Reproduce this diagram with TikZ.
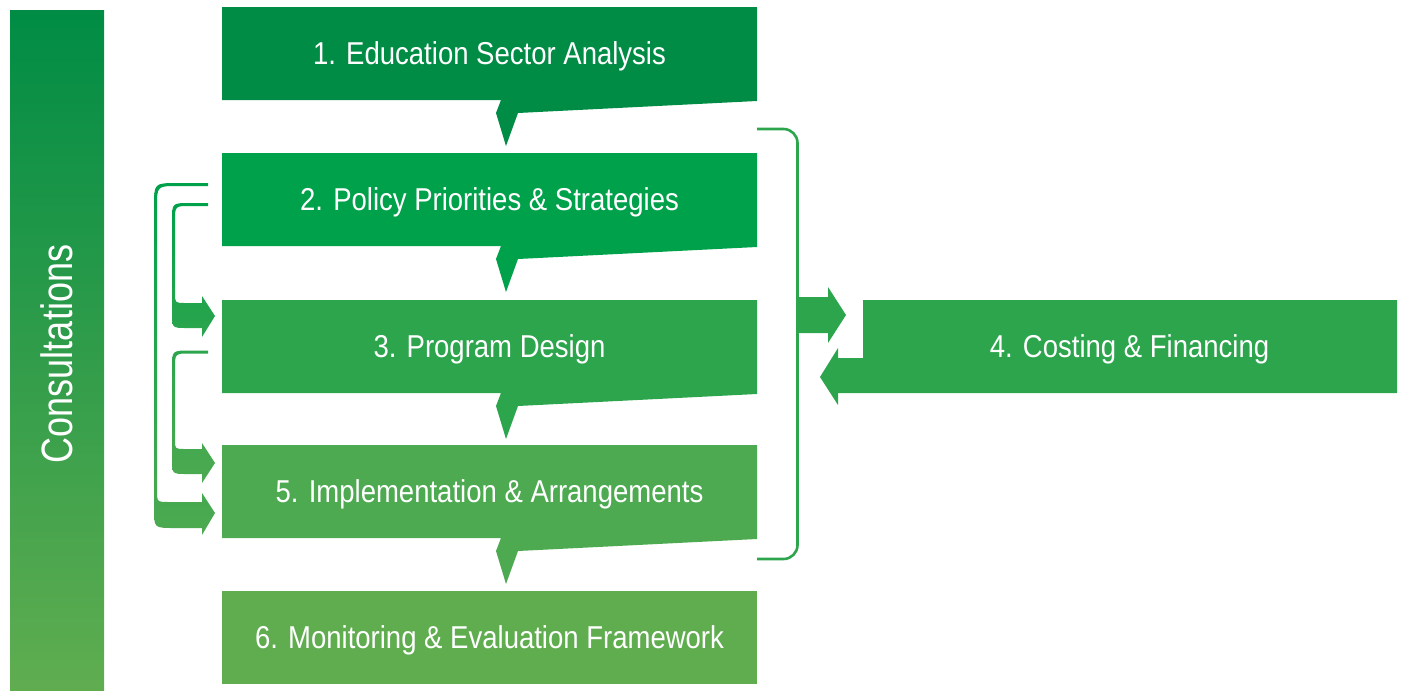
\documentclass[tikz,border=0pt]{standalone}
\usepackage{fontspec}
\setmainfont{Liberation Sans}
\newfontfamily\boxfont[FakeStretch=0.87]{Liberation Sans}
\newfontfamily\consfont[FakeStretch=0.82]{Liberation Sans}
\definecolor{gA}{RGB}{0,140,69}
\definecolor{gB}{RGB}{0,161,75}
\definecolor{gC}{RGB}{44,165,77}
\definecolor{gE}{RGB}{77,170,80}
\definecolor{gF}{RGB}{96,173,80}
\tikzset{
  boxtext/.style={text=white,font=\boxfont\fontsize{18}{20}\selectfont,inner sep=0pt},
  brk/.style={draw=gC,line width=2.6*0.02cm,rounded corners=14*0.02cm}
}
\begin{document}
\begin{tikzpicture}[x=0.02cm,y=-0.02cm]
\useasboundingbox (0,0) rectangle (1403,690);
% consultations bar
\shade[top color=gA,middle color=gB!90!gC,bottom color=gF] (10,10) rectangle (104,690);
\node[text=white,font=\consfont\fontsize{25}{27}\selectfont,rotate=90,inner sep=0pt] (cons) at (57,354) {Consultations};
% callout boxes
\fill[gA] (222,7) -- (757,7) -- (757,101) -- (518,113) -- (506,146) -- (496,113) -- (501,100) -- (222,100) -- cycle;
\fill[gB] (222,153) -- (757,153) -- (757,247) -- (518,259) -- (506,292) -- (496,259) -- (501,246) -- (222,246) -- cycle;
\fill[gC] (222,300) -- (757,300) -- (757,394) -- (518,406) -- (506,439) -- (496,406) -- (501,393) -- (222,393) -- cycle;
\fill[gE] (222,445) -- (757,445) -- (757,539) -- (518,551) -- (506,584) -- (496,551) -- (501,538) -- (222,538) -- cycle;
\fill[gF] (222,591) rectangle (757,684);
\node[boxtext] (b1) at (489.5,56) {1. Education Sector Analysis};
\node[boxtext] (b2) at (489.5,202) {2. Policy Priorities \& Strategies};
\node[boxtext] (b3) at (489.5,349) {3. Program Design};
\node[boxtext] (b5) at (489.5,494) {5. Implementation \& Arrangements};
\node[boxtext] (b6) at (489.5,640) {6. Monitoring \& Evaluation Framework};
% box 4 with return arrow
\fill[gC] (863,300) -- (1397,300) -- (1397,393) -- (838,393) -- (838,405) -- (820,377) -- (838,348) -- (838,358) -- (863,358) -- cycle;
\node[boxtext] (b4) at (1129.5,349) {4. Costing \& Financing};
% bracket and arrow to box 4
\draw[brk] (757,129) -- (797.5,129) -- (797.5,559) -- (757,559);
\fill[gC] (797,297) -- (828,297) -- (828,287) -- (846,315) -- (828,343) -- (828,333) -- (797,333) -- cycle;
% left feedback arrows (2 -> 5)
\shade[top color=gB,bottom color=gE]
  (208,183) -- (178,183) .. controls (154,183) .. (154,207) -- (154,508)
  .. controls (154,528) .. (174,528) -- (202,528) -- (202,535) -- (215,513)
  -- (202,493) -- (202,502) -- (169,502) .. controls (157,502) .. (157,490)
  -- (157,207) .. controls (157,186) .. (178,186) -- (208,186) -- cycle;
% 2 -> 3
\shade[top color=gB,bottom color=gC]
  (208,203) -- (190,203) .. controls (172,203) .. (172,221) -- (172,313)
  .. controls (172,328) .. (187,328) -- (202,328) -- (202,337) -- (215,316)
  -- (202,296) -- (202,303) -- (185,303) .. controls (175,303) .. (175,293)
  -- (175,221) .. controls (175,206) .. (190,206) -- (208,206) -- cycle;
% 3 -> 5
\shade[top color=gC,bottom color=gE]
  (208,350.5) -- (190,350.5) .. controls (172,350.5) .. (172,368) -- (172,459)
  .. controls (172,474) .. (187,474) -- (202,474) -- (202,483) -- (215,463)
  -- (202,443) -- (202,449) -- (185,449) .. controls (175,449) .. (175,440)
  -- (175,368) .. controls (175,353.5) .. (190,353.5) -- (208,353.5) -- cycle;
\end{tikzpicture}
\end{document}
